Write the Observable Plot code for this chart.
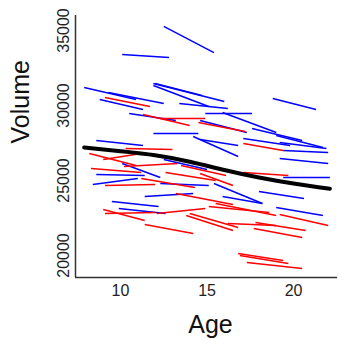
<!DOCTYPE html>
<html>
<head>
<meta charset="utf-8">
<script src="https://cdn.jsdelivr.net/npm/d3@7"></script>
<script src="https://cdn.jsdelivr.net/npm/@observablehq/plot@0.6"></script>
<style>
  html, body { margin: 0; padding: 0; background: #fff; }
  #chart { width: 339px; height: 340px; overflow: hidden; }
  svg { display: block; font-family: "Liberation Sans", Arial, sans-serif; }
</style>
</head>
<body>
<div id="chart"></div>
<script>
// Subjects: sex, age at first/second scan, volume at first/second scan
const sex = [
  "M","M","M","M","M","M","M","M","M","M","M","M","M","M","M","M","M","M","M","M",
  "M","M","M","M","M","M","M","M","M","M","M","M","M","M","M","M","M",
  "F","F","F","F","F","F","F","F","F","F","F","F","F","F","F","F","F","F","F","F",
  "F","F","F","F","F","F","F","F","F","F","F","F"
];
const ageStart = [
  12.5,10.1,7.9,9.3,8.8,11.9,12.0,11.9,13.4,18.8,10.5,14.9,15.9,11.9,14.2,14.6,17.1,19.2,17.6,19.0,
  19.4,19.2,8.6,19.4,8.6,8.4,12.3,11.4,15.4,18.0,9.5,9.9,19.0,10.1,12.5,15.9,14.6,
  9.1,11.3,12.3,14.5,17.1,10.3,8.2,9.0,8.3,10.2,9.1,11.2,12.6,13.2,9.0,9.1,12.1,15.1,15.5,13.8,
  14.0,16.2,17.8,17.7,19.2,11.4,16.8,16.9,17.3,17.1,14.6,13.5
];
const ageEnd = [
  15.4,12.8,10.9,12.5,11.3,16.0,14.7,15.1,16.2,21.3,13.2,17.6,19.0,14.5,16.8,16.8,19.8,21.9,20.5,21.7,
  22.0,22.0,11.3,22.1,11.4,11.0,15.1,14.2,18.2,20.6,12.2,12.6,21.7,12.3,15.0,18.2,17.3,
  11.7,14.0,14.9,17.2,19.4,13.0,10.9,11.2,11.2,13.3,12.0,14.3,15.5,16.5,11.4,12.0,14.9,18.6,19.0,16.5,
  16.8,19.0,20.7,20.5,22.0,14.2,19.4,19.7,20.5,19.7,16.5,16.1
];
const volStart = [
  35270,33400,31200,30870,30400,31470,31470,31330,30130,30470,29470,29470,29530,28130,27930,27730,27800,27530,28470,28000,
  27000,26470,27670,25200,25400,24730,24800,23930,24800,24270,23600,23130,23200,26130,26400,23930,29000,
  30530,29400,29130,28870,27470,27130,26800,26400,25800,25930,24670,25130,25530,24130,23070,22800,22800,23270,23470,22670,
  22800,22130,22200,21800,22730,22070,20130,20000,19530,25530,25470,26000
];
const volEnd = [
  33530,33200,30400,30130,29730,30270,30670,29930,29800,29730,29000,29470,28200,28130,26600,27330,27330,27130,27670,27200,
  26870,26130,27330,25200,25330,25130,24670,24130,23470,23800,23270,22800,22670,25200,25730,23470,28200,
  29930,28670,29130,28270,27000,27070,26000,26800,25530,26130,24730,24530,25000,23400,22330,22870,23130,22870,22670,21670,
  21870,22000,21670,21200,22000,21470,19670,19470,19130,25330,24670,25330
];
// Smoothed trend (black curve)
const trendAge = [7.9, 10, 12, 14, 16, 18, 20, 22.1];
const trendVol = [27200, 26950, 26680, 26250, 25700, 25200, 24800, 24450];

const yTicks = [20000, 25000, 30000, 35000];
const xTicks = [10, 15, 20];

const segs = sex.map((s, i) => ({sex: s, a1: ageStart[i], a2: ageEnd[i], v1: volStart[i], v2: volEnd[i]}));
const trend = trendAge.map((a, i) => ({age: a, vol: trendVol[i]}));

const xDom = [7.4, 22.54];
const yDom = [18533, 36000];
const font = "Liberation Sans, Arial, sans-serif";

const chart = Plot.plot({
  width: 339,
  height: 340,
  marginLeft: 75,
  marginRight: 2,
  marginTop: 15,
  marginBottom: 63,
  style: {fontFamily: font, background: "#fff"},
  x: {domain: xDom, axis: null},
  y: {domain: yDom, axis: null},
  color: {domain: ["M", "F"], range: ["#0000ff", "#ff0000"]},
  marks: [
    Plot.ruleX([xDom[0]], {y1: yDom[0], y2: yDom[1], stroke: "#333", strokeWidth: 1.5}),
    Plot.ruleY([yDom[0]], {x1: xDom[0], x2: xDom[1], stroke: "#333", strokeWidth: 1.5}),
    Plot.link(segs, {x1: "a1", y1: "v1", x2: "a2", y2: "v2", stroke: "sex", strokeWidth: 1.5}),
    Plot.line(trend, {x: "age", y: "vol", curve: "natural", stroke: "black", strokeWidth: 4}),
    Plot.text(yTicks, {x: () => xDom[0], y: d => d, text: d => String(d), rotate: -90, textAnchor: "middle", lineAnchor: "bottom", dx: -7, fontSize: 16, fill: "#222"}),
    Plot.text(xTicks, {x: d => d, y: () => yDom[0], text: d => String(d), lineAnchor: "middle", dy: 13, fontSize: 16, fill: "#222"}),
    Plot.text(["Age"], {frameAnchor: "bottom", lineAnchor: "middle", dy: 47, dx: 4, fontSize: 25, fill: "#111"}),
    Plot.text(["Volume"], {frameAnchor: "left", rotate: -90, lineAnchor: "middle", dx: -55, dy: -3, fontSize: 25, fill: "#111"})
  ]
});
document.getElementById("chart").appendChild(chart);
</script>
</body>
</html>
